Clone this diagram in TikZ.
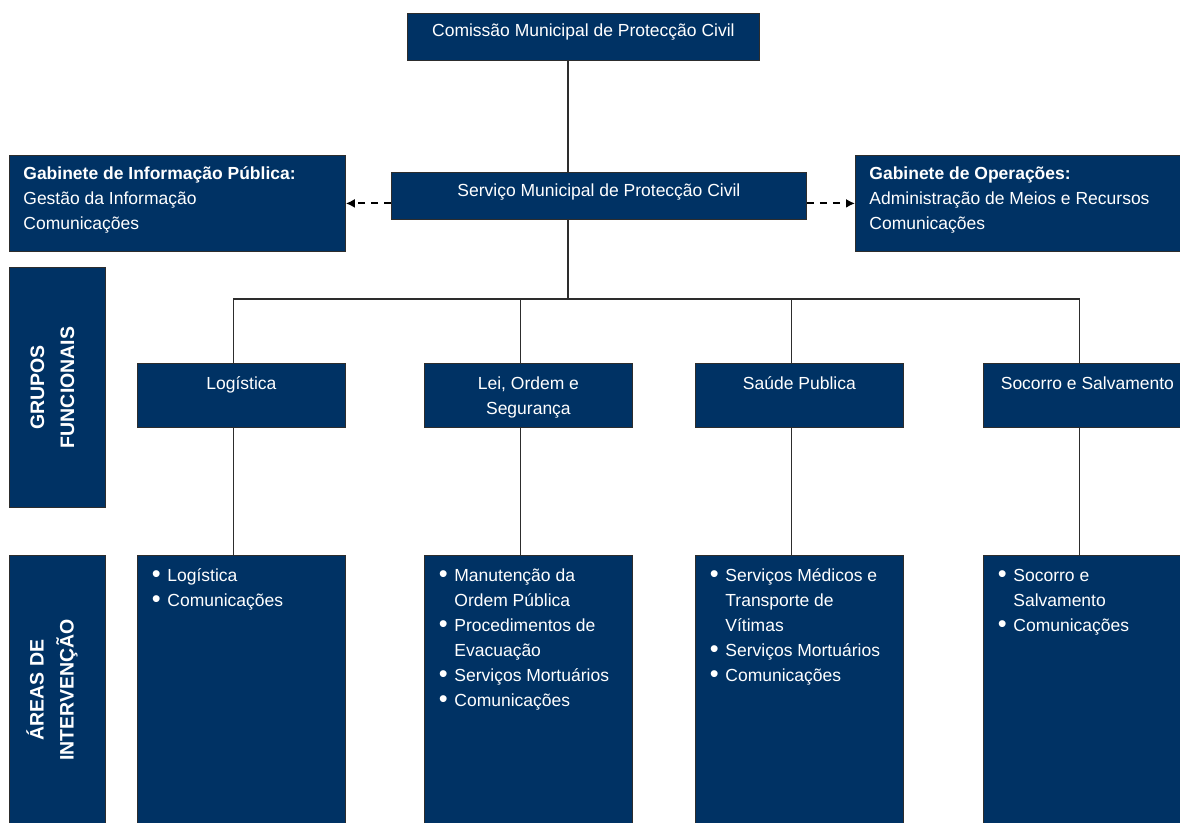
\documentclass[tikz,border=0pt]{standalone}
\usepackage{fontspec}
\setmainfont{Liberation Sans}
\usetikzlibrary{arrows.meta}
\definecolor{navy}{RGB}{0,50,100}
\definecolor{edge}{RGB}{45,45,45}
\newcommand{\tbox}[4]{\parbox[c][#2pt][t]{#1pt}{\vspace*{#3pt}#4}}
\newcommand{\bl}{\makebox[14.5pt][l]{\hspace*{-1pt}\raisebox{-0.9pt}{\scalebox{1.45}{\textbullet}}}}
\newcommand{\ct}{\hspace*{14.5pt}}
\begin{document}
\begin{tikzpicture}[x=1pt,y=-1pt,
  box/.style={draw=edge, line width=0.8pt, fill=navy, text=white, inner sep=0pt,
    anchor=north west, font=\fontsize{17.5}{25}\selectfont},
  sidebox/.style={draw=edge, line width=0.8pt, fill=navy, inner sep=0pt,
    anchor=north west, minimum width=96pt},
  sidetext/.style={rotate=90, text=white, align=center, inner sep=0pt,
    font=\fontsize{19.5}{30}\selectfont\bfseries},
  conn/.style={draw=edge, line width=1.1pt},
  dasharrow/.style={draw=black, line width=2pt, dash pattern=on 7pt off 6pt,
    -{Latex[length=9pt,width=9pt]}}]
\useasboundingbox (0,0) rectangle (1180,822);
\clip (0,0) rectangle (1180,822);

% top level
\node[box] (com) at (407,13) {\tbox{352}{47}{5.8}{\centering\strut Comissão Municipal de Protecção Civil}};
\node[box] (serv) at (391,172) {\tbox{415}{47}{7}{\centering\strut Serviço Municipal de Protecção Civil}};
\node[box] (info) at (9,155) {\tbox{336}{96}{6.8}{\raggedright\leftskip=14pt\strut\textbf{Gabinete de Informação Pública:}\\Gestão da Informação\\Comunicações}};
\node[box] (oper) at (855,155) {\tbox{335}{96}{6.8}{\raggedright\leftskip=14pt\strut\textbf{Gabinete de Operações:}\\Administração de Meios e Recursos\\Comunicações}};

% side labels
\node[sidebox, minimum height=240pt] (grp) at (9,267) {};
\node[sidetext] (grpt) at ([xshift=-5pt]grp.center) {GRUPOS\\FUNCIONAIS};
\node[sidebox, minimum height=280pt] (are) at (9,555) {};
\node[sidetext] (aret) at (52,690) {ÁREAS DE\\INTERVENÇÃO};

% functional groups
\node[box] (g1) at (137,363) {\tbox{208}{64}{8.8}{\centering\strut Logística}};
\node[box] (g2) at (424,363) {\tbox{208}{64}{8.8}{\centering\strut Lei, Ordem e\\Segurança}};
\node[box] (g3) at (695,363) {\tbox{208}{64}{8.8}{\centering\strut Saúde Publica}};
\node[box] (g4) at (983,363) {\tbox{208}{64}{8.8}{\centering\strut Socorro e Salvamento}};

% intervention areas
\node[box] (a1) at (137,555) {\tbox{208}{280}{8.8}{\raggedright\leftskip=15.5pt\strut\bl Logística\\\bl Comunicações}};
\node[box] (a2) at (424,555) {\tbox{208}{280}{8.8}{\raggedright\leftskip=15.5pt\strut\bl Manutenção da\\\ct Ordem Pública\\\bl Procedimentos de\\\ct Evacuação\\\bl Serviços Mortuários\\\bl Comunicações}};
\node[box] (a3) at (695,555) {\tbox{208}{280}{8.8}{\raggedright\leftskip=15.5pt\strut\bl Serviços Médicos e\\\ct Transporte de\\\ct Vítimas\\\bl Serviços Mortuários\\\bl Comunicações}};
\node[box] (a4) at (983,555) {\tbox{208}{280}{8.8}{\raggedright\leftskip=15.5pt\strut\bl Socorro e\\\ct Salvamento\\\bl Comunicações}};

% connectors
\coordinate (spine) at (568,299);
\draw[conn] (com.south -| spine) -- (serv.north -| spine);
\draw[conn] (serv.south -| spine) -- (spine);
\draw[conn] (spine) -| ([xshift=-8pt]g1.north);
\draw[conn] (spine) -| ([xshift=-8pt]g2.north);
\draw[conn] (spine) -| ([xshift=-8pt]g3.north);
\draw[conn] (spine) -| ([xshift=-8pt]g4.north);
\draw[conn] ([xshift=-8pt]g1.south) -- ([xshift=-8pt]a1.north);
\draw[conn] ([xshift=-8pt]g2.south) -- ([xshift=-8pt]a2.north);
\draw[conn] ([xshift=-8pt]g3.south) -- ([xshift=-8pt]a3.north);
\draw[conn] ([xshift=-8pt]g4.south) -- ([xshift=-8pt]a4.north);
\draw[dasharrow] (serv.west |- info.east) -- (info.east);
\draw[dasharrow] (serv.east |- oper.west) -- (oper.west);
\end{tikzpicture}
\end{document}
